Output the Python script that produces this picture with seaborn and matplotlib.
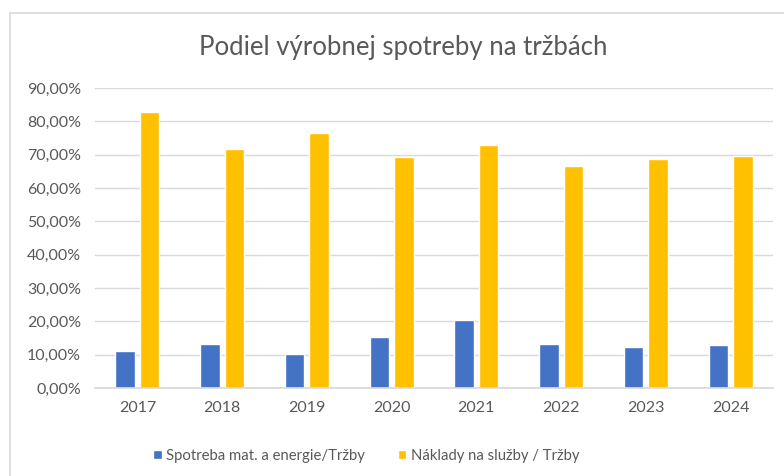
import matplotlib
matplotlib.use("Agg")
import matplotlib.pyplot as plt
import matplotlib.patches as mpatches
from matplotlib.ticker import FuncFormatter, MultipleLocator
import seaborn as sns
import pandas as pd

years = ["2017", "2018", "2019", "2020", "2021", "2022", "2023", "2024"]
spotreba = [0.110, 0.132, 0.103, 0.153, 0.203, 0.133, 0.124, 0.128]
naklady = [0.829, 0.718, 0.764, 0.692, 0.728, 0.665, 0.686, 0.696]
series_names = ["Spotreba mat. a energie/Tržby", "Náklady na služby / Tržby"]
colors = ["#4472C4", "#FFC000"]
title = "Podiel výrobnej spotreby na tržbách"

df = pd.DataFrame({
    "year": years * 2,
    "value": spotreba + naklady,
    "series": [series_names[0]] * len(years) + [series_names[1]] * len(years),
})

sns.set_theme(style="white")
plt.rcParams["font.family"] = ["Lato", "DejaVu Sans"]

fig = plt.figure(figsize=(7.84, 4.76), dpi=100)
fig.patch.set_facecolor("white")
ax = fig.add_axes([95 / 784, 1 - 388 / 476, (773 - 95) / 784, 300 / 476])

sns.barplot(data=df, x="year", y="value", hue="series", palette=colors,
            width=0.58, gap=0.2, ax=ax, saturation=1, legend=True)

ax.set_ylim(0, 0.9)
ax.set_xlim(-0.5, len(years) - 0.5)
ax.yaxis.set_major_locator(MultipleLocator(0.1))
ax.yaxis.set_major_formatter(FuncFormatter(lambda v, p: f"{v*100:.2f}%".replace(".", ",")))
ax.grid(axis="y", color="#d9d9d9", linewidth=1)
ax.set_axisbelow(True)
for s in ["top", "right", "left"]:
    ax.spines[s].set_visible(False)
ax.spines["bottom"].set_color("#d9d9d9")
ax.tick_params(axis="both", length=0, colors="#595959", labelsize=11.5)
ax.tick_params(axis="y", pad=10)
ax.tick_params(axis="x", pad=9)
ax.set_xlabel("")
ax.set_ylabel("")

fig.text(403 / 784, 1 - 47 / 476, title, ha="center", va="center",
         fontsize=18.5, color="#595959")

leg = ax.legend(loc="center", bbox_to_anchor=(366 / 784, 1 - 456 / 476),
                bbox_transform=fig.transFigure, ncol=2, frameon=False,
                fontsize=10.7, handlelength=0.6, handleheight=0.6,
                columnspacing=2.2, handletextpad=0.3)
for t in leg.get_texts():
    t.set_color("#595959")

fig.patches.append(mpatches.Rectangle((10 / 784, -0.05), 1.0, 1 - 13 / 476 + 0.05,
                                      transform=fig.transFigure, fill=False,
                                      edgecolor="#d9d9d9", linewidth=1.2))

fig.savefig("out.png", dpi=100, facecolor="white")
